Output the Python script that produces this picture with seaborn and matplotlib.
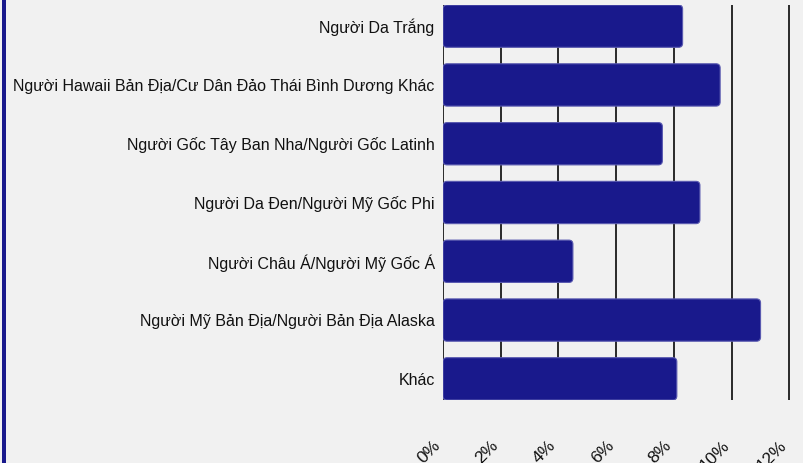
import matplotlib
matplotlib.use("Agg")
import matplotlib.pyplot as plt
import matplotlib.transforms as mtransforms
import seaborn as sns
import pandas as pd
from matplotlib.patches import FancyBboxPatch, Rectangle
from matplotlib.ticker import FuncFormatter

categories = [
    "Người Da Trắng",
    "Người Hawaii Bản Địa/Cư Dân Đảo Thái Bình Dương Khác",
    "Người Gốc Tây Ban Nha/Người Gốc Latinh",
    "Người Da Đen/Người Mỹ Gốc Phi",
    "Người Châu Á/Người Mỹ Gốc Á",
    "Người Mỹ Bản Địa/Người Bản Địa Alaska",
    "Khác",
]
values = [8.3, 9.6, 7.6, 8.9, 4.5, 11.0, 8.1]
x_ticks = [0, 2, 4, 6, 8, 10, 12]

df = pd.DataFrame({"cat": categories, "val": values})

sns.set_theme(style="white")
plt.rcParams["font.family"] = ["Liberation Sans", "DejaVu Sans"]

BG = "#f1f1f1"
BAR = "#19198c"

fig = plt.figure(figsize=(8.04, 4.63), dpi=100, facecolor=BG)
ax = fig.add_axes([443 / 804, 1 - 400 / 463, (790 - 443) / 804, (400 - 5) / 463])
ax.set_facecolor(BG)

sns.barplot(data=df, x="val", y="cat", orient="h", color=BAR, width=0.72,
            saturation=1, ax=ax, zorder=3)

# round the bar corners
for p in list(ax.patches):
    x, y = p.get_x(), p.get_y()
    w, h = p.get_width(), p.get_height()
    p.remove()
    fb = FancyBboxPatch((x, y), w, h,
                        boxstyle="round,pad=0,rounding_size=0.14",
                        mutation_aspect=0.5,
                        facecolor=BAR, edgecolor="#5a5ab0", linewidth=0.8,
                        zorder=3)
    ax.add_patch(fb)

ax.set_xlim(0, 12.02)
ax.set_ylim(6 + 0.36, -0.36)
ax.set_xticks(x_ticks)
ax.xaxis.set_major_formatter(FuncFormatter(lambda v, _: f"{v:.0f}%"))
ax.grid(axis="x", color="#1a1a1a", linewidth=1.3, zorder=1)
ax.grid(axis="y", visible=False)
for s in ax.spines.values():
    s.set_visible(False)
ax.set_xlabel("")
ax.set_ylabel("")
ax.tick_params(axis="y", length=0, pad=6, labelsize=11.5, labelcolor="#111111")
ax.tick_params(axis="x", length=0, pad=31, labelsize=12.5, labelcolor="#111111")
offset = mtransforms.ScaledTranslation(-5 / 100, 0, fig.dpi_scale_trans)
for lab in ax.get_xticklabels():
    lab.set_rotation(45)
    lab.set_ha("right")
    lab.set_va("center")
    lab.set_rotation_mode("anchor")
    lab.set_transform(lab.get_transform() + offset)

# left blue border
fig.patches.append(Rectangle((2 / 804, 0), 4 / 804, 1, transform=fig.transFigure,
                             facecolor=BAR, edgecolor="none", zorder=10))

fig.savefig("out.png", dpi=100, facecolor=BG)
